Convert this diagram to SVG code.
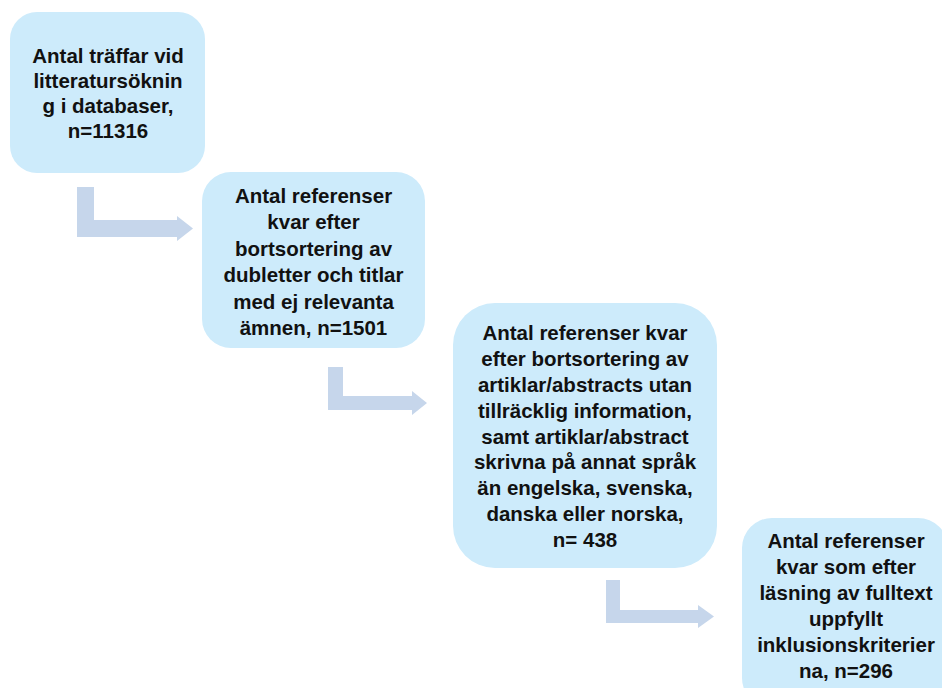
<svg xmlns="http://www.w3.org/2000/svg" width="942" height="688" viewBox="0 0 942 688">
<style>
.box{fill:#CDEBFB;stroke:none}
.arrow{fill:#C6D6EB;stroke:none}
text{font-family:"Liberation Sans",Arial,sans-serif;font-weight:bold;font-size:20.5px;fill:#111;text-anchor:middle}
</style>
<rect width="942" height="688" fill="#ffffff"/>
<g id="connectors">
<path class="arrow" d="M77,187 H94 V220 H177 V216 L193,228.5 L177,241 V237 H77 Z"/>
<path class="arrow" d="M328,367 H343 V396 H412 V391 L427,403 L412,415 V410 H328 Z"/>
<path class="arrow" d="M606,580 H620 V610 H698 V605 L714,616.5 L698,628 V623 H606 Z"/>
</g>
<g id="node1">
<rect class="box" x="10" y="12" width="195" height="161" rx="27"/>
<text x="108" y="63">Antal träffar vid</text>
<text x="108" y="88">litteratursöknin</text>
<text x="108" y="113">g i databaser,</text>
<text x="108" y="138">n=11316</text>
</g>
<g id="node2">
<rect class="box" x="202" y="172" width="223" height="176" rx="29"/>
<text x="313.5" y="203">Antal referenser</text>
<text x="313.5" y="229.4">kvar efter</text>
<text x="313.5" y="255.8">bortsortering av</text>
<text x="313.5" y="282.2">dubletter och titlar</text>
<text x="313.5" y="308.6">med ej relevanta</text>
<text x="313.5" y="335">ämnen, n=1501</text>
</g>
<g id="node3">
<rect class="box" x="453" y="303" width="264" height="265" rx="42"/>
<text x="585" y="340">Antal referenser kvar</text>
<text x="585" y="366">efter bortsortering av</text>
<text x="585" y="392">artiklar/abstracts utan</text>
<text x="585" y="418">tillräcklig information,</text>
<text x="585" y="444">samt artiklar/abstract</text>
<text x="585" y="469">skrivna på annat språk</text>
<text x="585" y="495">än engelska, svenska,</text>
<text x="585" y="521">danska eller norska,</text>
<text x="585" y="547">n= 438</text>
</g>
<g id="node4">
<rect class="box" x="742" y="518" width="206" height="190" rx="30"/>
<text x="846" y="548">Antal referenser</text>
<text x="846" y="574">kvar som efter</text>
<text x="846" y="600">läsning av fulltext</text>
<text x="846" y="626">uppfyllt</text>
<text x="846" y="652">inklusionskriterier</text>
<text x="846" y="678">na, n=296</text>
</g>
</svg>
